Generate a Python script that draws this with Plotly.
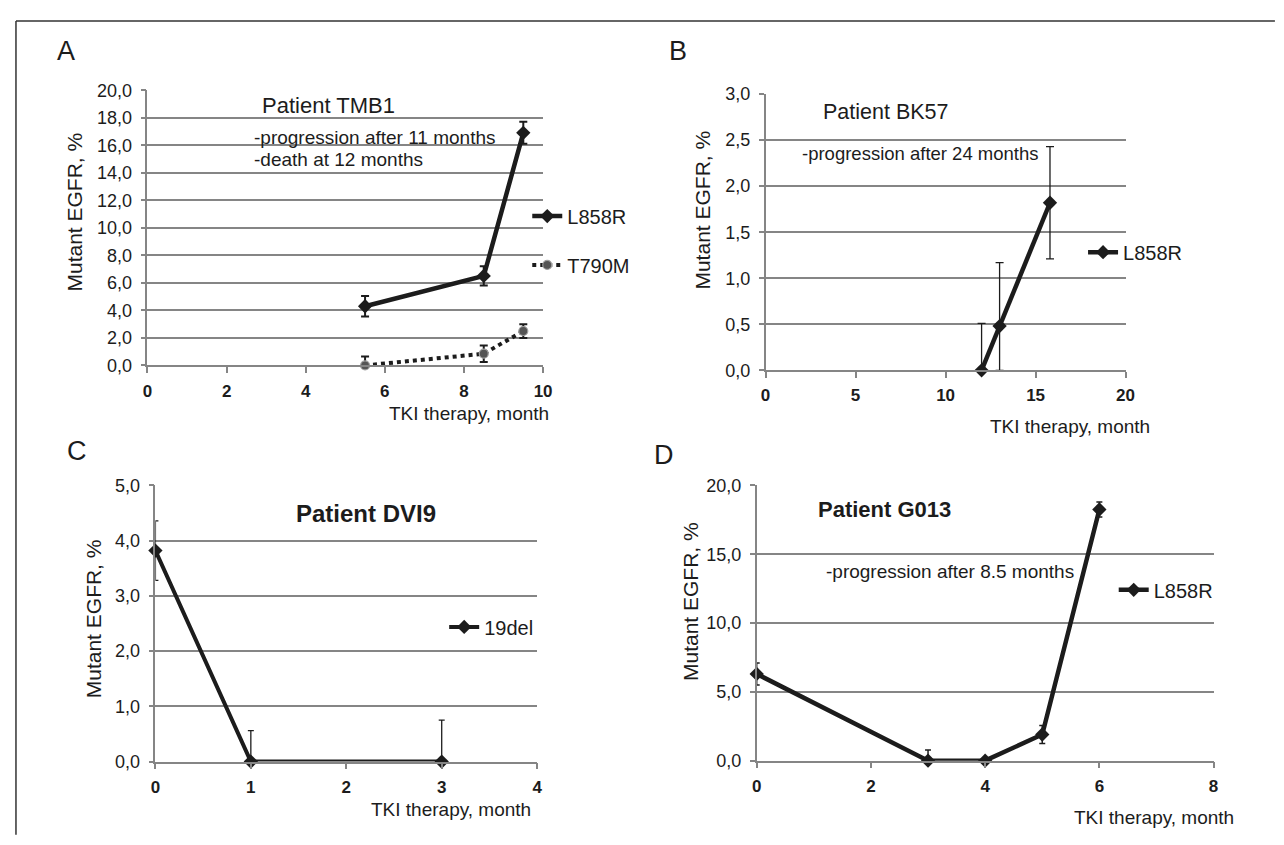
import plotly.graph_objects as go

# ---------------- data ----------------
a_x = [5.5, 8.5, 9.5]
a_l858r = [4.3, 6.5, 16.9]
a_l858r_err = [0.75, 0.7, 0.8]
a_t790m = [0.0, 0.85, 2.5]
a_t790m_err_plus = [0.65, 0.6, 0.5]
a_t790m_err_minus = [0.0, 0.6, 0.5]

b_x = [12, 13, 15.8]
b_l858r = [0.0, 0.48, 1.82]
b_err_plus = [0.51, 0.69, 0.61]
b_err_minus = [0.0, 0.48, 0.61]

c_x = [0, 1, 3]
c_19del = [3.82, 0.0, 0.0]
c_err_plus = [0.54, 0.56, 0.75]
c_err_minus = [0.54, 0.0, 0.0]

d_x = [0, 3, 4, 5, 6]
d_l858r = [6.3, 0.0, 0.0, 1.9, 18.25]
d_err_plus = [0.8, 0.78, 0.1, 0.65, 0.55]
d_err_minus = [0.8, 0.0, 0.0, 0.65, 0.55]

a_yticks = [0, 2, 4, 6, 8, 10, 12, 14, 16, 18, 20]
a_yticklabels = ["0,0", "2,0", "4,0", "6,0", "8,0", "10,0", "12,0", "14,0", "16,0", "18,0", "20,0"]
a_xticks = [0, 2, 4, 6, 8, 10]
b_yticks = [0, 0.5, 1.0, 1.5, 2.0, 2.5, 3.0]
b_yticklabels = ["0,0", "0,5", "1,0", "1,5", "2,0", "2,5", "3,0"]
b_xticks = [0, 5, 10, 15, 20]
c_yticks = [0, 1, 2, 3, 4, 5]
c_yticklabels = ["0,0", "1,0", "2,0", "3,0", "4,0", "5,0"]
c_xticks = [0, 1, 2, 3, 4]
d_yticks = [0, 5, 10, 15, 20]
d_yticklabels = ["0,0", "5,0", "10,0", "15,0", "20,0"]
d_xticks = [0, 2, 4, 6, 8]

y_title = "Mutant EGFR, %"
x_title = "TKI therapy, month"

# ---------------- layout helpers ----------------
W, H, OFF = 1268, 829, 8
FONT = "Liberation Sans, Arial, sans-serif"
DARK = "#1c1c1c"
GRID = "#858585"


def fx(px):
    return (px - OFF) / W


def fy(py):
    return 1 - (py - OFF) / H


fig = go.Figure()


def add_axes(n, xpx, ypx, xrange, xticks, yrange, yticks, ylabels):
    xa = dict(domain=[fx(xpx[0]), fx(xpx[1])], range=xrange, tickvals=xticks,
              showgrid=False, zeroline=False, showline=True, linecolor=GRID, linewidth=1.5,
              ticks="outside", ticklen=6, tickcolor=GRID, tickwidth=1.5,
              tickfont=dict(family=FONT, size=17, color=DARK, weight="bold"),
              ticklabelstandoff=3, anchor="y" if n == 1 else f"y{n}", fixedrange=True)
    ya = dict(domain=[fy(ypx[1]), fy(ypx[0])], range=yrange, tickvals=yticks, ticktext=ylabels,
              showgrid=True, gridcolor=GRID, gridwidth=1.8, zeroline=False,
              showline=True, linecolor=GRID, linewidth=1.5,
              ticks="outside", ticklen=5, tickcolor=GRID, tickwidth=1.5,
              tickfont=dict(family=FONT, size=18, color=DARK),
              ticklabelstandoff=5, anchor="x" if n == 1 else f"x{n}", fixedrange=True)
    key = "" if n == 1 else str(n)
    fig.update_layout(**{f"xaxis{key}": xa, f"yaxis{key}": ya})


add_axes(1, (144, 544), (82, 364), [0, 10], a_xticks, [0, 20], a_yticks, a_yticklabels)
add_axes(2, (769, 1133), (86, 369), [0, 20], b_xticks, [0, 3], b_yticks, b_yticklabels)
add_axes(3, (152, 538), (487, 770), [0, 4], c_xticks, [0, 5], c_yticks, c_yticklabels)
add_axes(4, (760, 1222), (487, 769), [0, 8], d_xticks, [0, 20], d_yticks, d_yticklabels)


def err(plus, minus, thick, width):
    return dict(type="data", symmetric=False, array=plus, arrayminus=minus,
                color=DARK, thickness=thick, width=width)


# Panel A
fig.add_trace(go.Scatter(x=a_x, y=a_l858r, name="L858R", mode="lines+markers",
                         line=dict(color=DARK, width=4.5),
                         marker=dict(symbol="diamond", size=11, color=DARK),
                         error_y=err(a_l858r_err, a_l858r_err, 2, 4),
                         cliponaxis=False, xaxis="x", yaxis="y", legend="legend"))
fig.add_trace(go.Scatter(x=a_x, y=a_t790m, name="T790M", mode="lines+markers",
                         line=dict(color=DARK, width=4, dash="dot"),
                         marker=dict(symbol="circle", size=9, color="#555555",
                                     line=dict(color="#a0a0a0", width=1.2)),
                         error_y=err(a_t790m_err_plus, a_t790m_err_minus, 2, 4),
                         cliponaxis=False, xaxis="x", yaxis="y", legend="legend2"))
# Panel B
fig.add_trace(go.Scatter(x=b_x, y=b_l858r, name="L858R", mode="lines+markers",
                         line=dict(color=DARK, width=4.5),
                         marker=dict(symbol="diamond", size=11, color=DARK),
                         error_y=err(b_err_plus, b_err_minus, 1.3, 4),
                         cliponaxis=False, xaxis="x2", yaxis="y2", legend="legend3"))
# Panel C
fig.add_trace(go.Scatter(x=c_x, y=c_19del, name="19del", mode="lines+markers",
                         line=dict(color=DARK, width=4),
                         marker=dict(symbol="diamond", size=11, color=DARK),
                         error_y=err(c_err_plus, c_err_minus, 1.3, 3),
                         cliponaxis=False, xaxis="x3", yaxis="y3", legend="legend4"))
# Panel D
fig.add_trace(go.Scatter(x=d_x, y=d_l858r, name="L858R", mode="lines+markers",
                         line=dict(color=DARK, width=4.5),
                         marker=dict(symbol="diamond", size=11, color=DARK),
                         error_y=err(d_err_plus, d_err_minus, 1.5, 3),
                         cliponaxis=False, xaxis="x4", yaxis="y4", legend="legend5"))


def legend_at(px, py):
    return dict(x=fx(px), y=fy(py), xanchor="left", yanchor="middle",
                bgcolor="rgba(0,0,0,0)", borderwidth=0,
                font=dict(family=FONT, size=20, color=DARK), itemwidth=30)


fig.update_layout(legend=legend_at(528, 211), legend2=legend_at(528, 261),
                  legend3=legend_at(1090, 248), legend4=legend_at(444, 632),
                  legend5=legend_at(1121, 594))

ann = []


def text(s, px, py, size, xanchor="left", bold=False, angle=0):
    ann.append(dict(text=s, x=fx(px), y=fy(py), xref="paper", yref="paper",
                    xanchor=xanchor, yanchor="middle", showarrow=False, textangle=angle,
                    font=dict(family=FONT, size=size, color=DARK,
                              weight="bold" if bold else "normal")))


# panel letters
text("A", 50, 42, 27)
text("B", 669, 42, 27)
text("C", 61, 452, 27)
text("D", 654, 456, 27)
# y titles
for (px, py) in [(70, 207), (705, 205), (89, 624), (693, 606)]:
    text(y_title, px, py, 21, xanchor="center", angle=-90)
# x titles
for (px, py) in [(552, 413), (1160, 427), (534, 819), (1245, 827)]:
    text(x_title, px, py, 19, xanchor="right")
# inner texts
text("Patient TMB1", 258, 98, 22)
text("-progression after 11 months", 250, 130, 19)
text("-death at 12 months", 250, 153, 19)
text("Patient BK57", 825, 104, 21.5)
text("-progression after 24 months", 804, 147, 18.5)
text("Patient DVI9", 292, 516, 24, bold=True)
text("Patient G013", 820, 512, 22, bold=True)
text("-progression after 8.5 months", 828, 575, 19)

shapes = [
    dict(type="line", xref="paper", yref="paper", x0=fx(11), x1=fx(1284), y0=fy(11), y1=fy(11),
         line=dict(color="#333333", width=1.5)),
    dict(type="line", xref="paper", yref="paper", x0=fx(11), x1=fx(11), y0=fy(11), y1=fy(845),
         line=dict(color="#333333", width=1.5)),
]

fig.update_layout(width=W, height=H, autosize=False,
                  margin=dict(l=0, r=0, t=0, b=0, pad=0),
                  paper_bgcolor="white", plot_bgcolor="white",
                  annotations=ann, shapes=shapes, showlegend=True,
                  font=dict(family=FONT, color=DARK))

fig.write_html("out.html")
